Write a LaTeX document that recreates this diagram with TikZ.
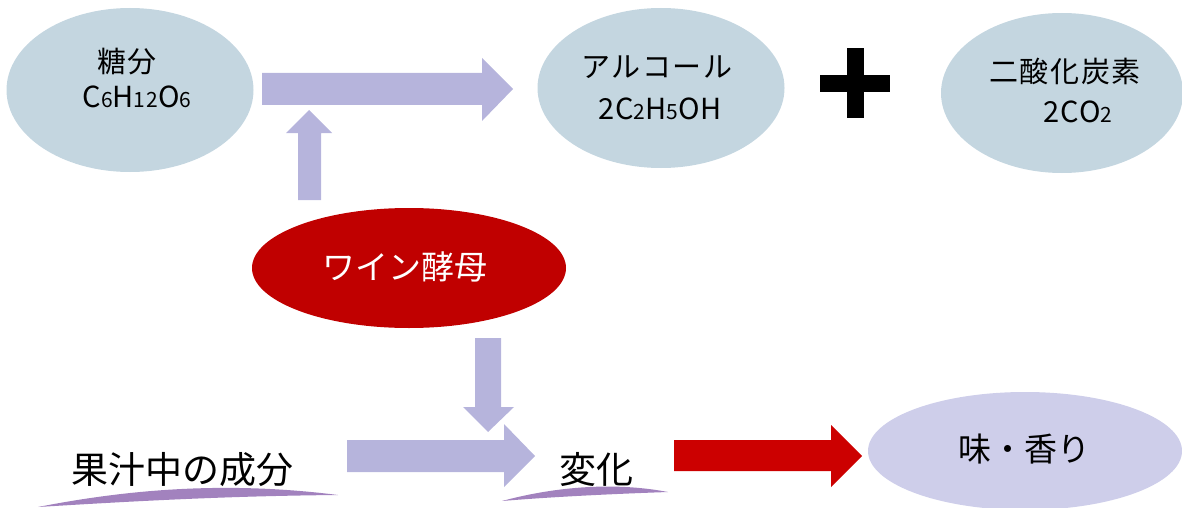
\documentclass[tikz,border=0pt]{standalone}
\usepackage{fontspec}
\setmainfont{Noto Sans CJK JP}
\newfontfamily\jpsp[LetterSpace=6]{Noto Sans CJK JP}
\newfontfamily\jpfm[LetterSpace=4]{Noto Sans CJK JP}
\usetikzlibrary{shapes.geometric}
\definecolor{blob}{HTML}{C4D6E0}
\definecolor{lav}{HTML}{B6B4DC}
\definecolor{yeast}{HTML}{C00000}
\definecolor{redarr}{HTML}{CC0000}
\definecolor{taste}{HTML}{CECEEA}
\definecolor{brush}{HTML}{A282BE}
\newcommand\sbd[1]{{\fontsize{21}{21}\selectfont #1}}
\tikzset{
  blobnode/.style={ellipse, fill=blob, draw=none, inner sep=0pt},
  txt/.style={anchor=base, inner sep=0pt, font=\jpsp\fontsize{29}{32}\selectfont},
  formula/.style={anchor=base, inner sep=0pt, font=\jpfm\fontsize{29}{32}\selectfont},
  bigtxt/.style={anchor=base, inner sep=0pt, font=\fontsize{37}{40}\selectfont},
  lavarrow/.style={fill=lav, draw=none},
}
\begin{document}
\begin{tikzpicture}[x=1pt, y=-1pt]
\useasboundingbox (0,0) rectangle (1182,508);
% ellipses
\node[blobnode, minimum width=247pt, minimum height=164pt] (sugar) at (130,90) {};
\node[blobnode, minimum width=247pt, minimum height=160pt] (alc) at (661,88) {};
\node[blobnode, minimum width=242pt, minimum height=160pt] (co2) at (1062,93) {};
\node[ellipse, fill=yeast, inner sep=0pt, minimum width=314pt, minimum height=120pt] (yeast) at (409,268) {};
\node[ellipse, fill=taste, inner sep=0pt, minimum width=314pt, minimum height=118pt] (taste) at (1025,451) {};
% texts
\node[txt] (t1) at (127,73) {糖分};
\node[formula] (f1) at (137,107) {C\sbd{6}H\sbd{12}O\sbd{6}};
\node[txt] (t2) at (657,78) {アルコール};
\node[formula] (f2) at (660,120) {2C\sbd{2}H\sbd{5}OH};
\node[txt] (t3) at (1065,83) {二酸化炭素};
\node[formula] (f3) at (1078,122) {2CO\sbd{2}};
\node[anchor=base, inner sep=0pt, text=white, font=\fontsize{33}{35}\selectfont] (ty) at (405,279) {ワイン酵母};
\node[bigtxt] (tj) at (182,483) {果汁中の成分};
\node[bigtxt] (tc) at (596,483) {変化};
\node[anchor=base, inner sep=0pt, font=\fontsize{33}{35}\selectfont] (tt) at (1024,461) {味・香り};
% plus sign
\fill (847,48) rectangle (864,118);
\fill (820,75) rectangle (890,92);
% block arrows
\fill[lavarrow] (262,73) -- (482,73) -- (482,58) -- (513,89) -- (482,121) -- (482,105) -- (262,105) -- cycle;
\fill[lavarrow] (298,200) -- (298,133) -- (286,133) -- (309,110) -- (332,133) -- (321,133) -- (321,200) -- cycle;
\fill[lavarrow] (475,338) -- (501,338) -- (501,407) -- (514,407) -- (488,432) -- (463,407) -- (475,407) -- cycle;
\fill[lavarrow] (347,440) -- (504,440) -- (504,424) -- (535,456) -- (504,487) -- (504,472) -- (347,472) -- cycle;
\fill[redarr] (674,440) -- (831,440) -- (831,425) -- (862,456) -- (831,487) -- (831,471) -- (674,471) -- cycle;
% brush strokes
\fill[brush] (38,507) .. controls (120,491) and (220,480) .. (338,495) .. controls (220,496) and (120,502) .. (38,507) -- cycle;
\fill[brush] (502,501) .. controls (550,488) and (610,481) .. (668,492) .. controls (610,494) and (550,497) .. (502,501) -- cycle;
\end{tikzpicture}
\end{document}
